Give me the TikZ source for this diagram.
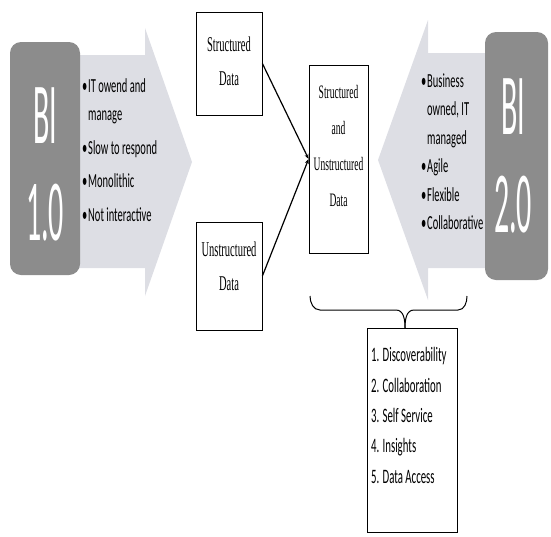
\documentclass[tikz,border=0pt]{standalone}
\usepackage{fontspec}
\setmainfont{Liberation Serif}
\newfontfamily\calib{Carlito}
\usetikzlibrary{arrows.meta,positioning}
\colorlet{bigray}{black!45}
\definecolor{arrowgray}{RGB}{221,222,228}
\newcommand{\bul}{\makebox[6pt][l]{•}}

\begin{document}
\begin{tikzpicture}[x=1pt,y=-1pt,>=Stealth,
  bibox/.style={fill=bigray,rounded corners=11pt,inner sep=0},
  bitext/.style={text=white,font=\calib\fontsize{30}{33.5}\selectfont,yscale=2.9,align=center,inner sep=0},
  bullets/.style={font=\calib\fontsize{10.5}{15}\selectfont,yscale=1.9,align=left,inner sep=0,anchor=north west},
  databox/.style={draw,line width=0.8pt,fill=white,inner sep=0},
  datatext/.style={font=\fontsize{10.5}{17}\selectfont,yscale=2,align=center,inner sep=0}]
\useasboundingbox (0,0) rectangle (551,536);
% the two wide arrows behind the bullet texts
\fill[arrowgray] (70,55) -- (145,55) -- (145,28) -- (192,162) -- (145,296) -- (145,268) -- (70,268) -- cycle;
\fill[arrowgray] (495,53) -- (428,53) -- (428,20) -- (378,160) -- (428,300) -- (428,268) -- (495,268) -- cycle;
% BI 1.0 and BI 2.0
\node[bibox,minimum width=70pt,minimum height=233pt] (bione) at (45,158.5) {};
\node[bitext] (bionetext) at (45,164) {BI\\1.0};
\node[bibox,minimum width=63pt,minimum height=248pt] (bitwo) at (516.5,156) {};
\node[bitext] (bitwotext) at (513,156) {BI\\2.0};
\node[bullets] (oldlist) at (82,78) {\bul IT owend and\\\hspace{6pt}manage\\[2.6pt]\bul Slow to respond\\[2.6pt]\bul Monolithic\\[2.6pt]\bul Not interactive};
\node[bullets] (newlist) at (421,73) {\bul Business\\\hspace{6pt}owned, IT\\\hspace{6pt}managed\\\bul Agile\\\bul Flexible\\\bul Collaborative};
% data boxes
\node[databox,minimum width=66pt,minimum height=103pt] (sd) at (229,63.5) {};
\node[datatext] (sdtext) at (229,61) {Structured\\Data};
\node[databox,minimum width=66pt,minimum height=108pt] (ud) at (229,276) {};
\node[datatext] (udtext) at (229,266) {Unstructured\\Data};
\node[databox,minimum width=59pt,minimum height=188pt] (ct) at (338.5,159) {};
\node[datatext,font=\fontsize{9.5}{18}\selectfont] (cttext) at (338.5,146) {Structured\\and\\Unstructured\\Data};
\draw[line width=1.2pt,-{Stealth[length=5pt,width=4pt]}] (sd.east) -- (ct.west);
\draw[line width=1.2pt,-{Stealth[length=5pt,width=4pt]}] (ud.east) -- (ct.west);
% brace and the list below it
\node[databox,minimum width=90pt,minimum height=204pt] (goals) at (412,430) {};
\coordinate (bracetip) at (405,328);
\draw[line width=1pt] (310,296) to[out=-90,in=180] (320,310) -- (396,310) to[out=0,in=90] (bracetip);
\draw[line width=1pt] (bracetip) to[out=90,in=180] (414,310) -- (458,310) to[out=0,in=-90] (467,296);
\node[bullets,font=\calib\fontsize{10.8}{16}\selectfont] (goaltext) at (371,347) {1. Discoverability\\2. Collaboration\\3. Self Service\\4. Insights\\5. Data Access};
\end{tikzpicture}
\end{document}
